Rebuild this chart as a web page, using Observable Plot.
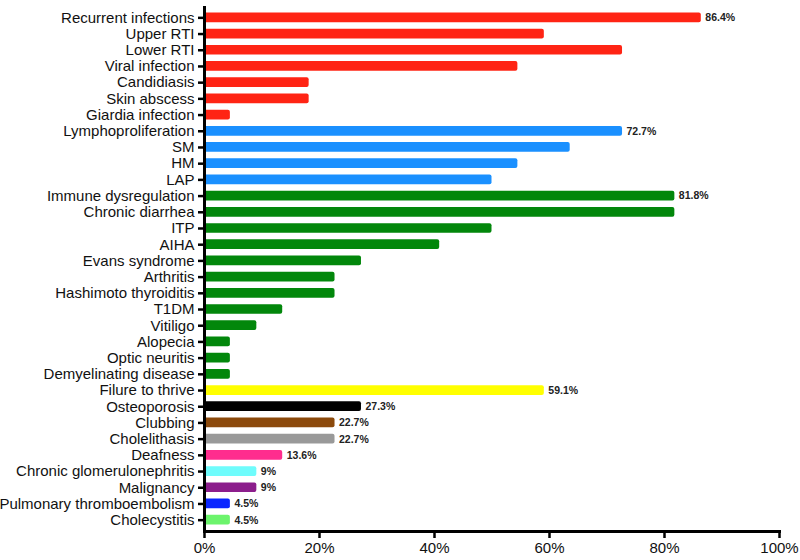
<!DOCTYPE html>
<html>
<head>
<meta charset="utf-8">
<script src="https://cdn.jsdelivr.net/npm/d3@7"></script>
<script src="https://cdn.jsdelivr.net/npm/@observablehq/plot@0.6"></script>
<style>
  html, body { margin: 0; padding: 0; background: #fff; }
  #chart { width: 800px; height: 560px; }
  svg { font-family: "Liberation Sans", Arial, Helvetica, sans-serif; }
</style>
</head>
<body>
<div id="chart"></div>
<script>
const categories = [
  "Recurrent infections", "Upper RTI", "Lower RTI", "Viral infection", "Candidiasis",
  "Skin abscess", "Giardia infection", "Lymphoproliferation", "SM", "HM", "LAP",
  "Immune dysregulation", "Chronic diarrhea", "ITP", "AIHA", "Evans syndrome",
  "Arthritis", "Hashimoto thyroiditis", "T1DM", "Vitiligo", "Alopecia",
  "Optic neuritis", "Demyelinating disease", "Filure to thrive", "Osteoporosis",
  "Clubbing", "Cholelithasis", "Deafness", "Chronic glomerulonephritis",
  "Malignancy", "Pulmonary thromboembolism", "Cholecystitis"
];
const values = [
  86.4, 59.1, 72.7, 54.5, 18.2,
  18.2, 4.5, 72.7, 63.6, 54.5, 50.0,
  81.8, 81.8, 50.0, 40.9, 27.3,
  22.7, 22.7, 13.6, 9.1, 4.5,
  4.5, 4.5, 59.1, 27.3,
  22.7, 22.7, 13.6, 9.1,
  9.1, 4.5, 4.5
];
const groups = [
  "inf", "inf", "inf", "inf", "inf",
  "inf", "inf", "lym", "lym", "lym", "lym",
  "imm", "imm", "imm", "imm", "imm",
  "imm", "imm", "imm", "imm", "imm",
  "imm", "imm", "ftt", "ost",
  "clu", "chl", "dea", "cgn",
  "mal", "pte", "chc"
];
const valueLabels = [
  "86.4%", "", "", "", "",
  "", "", "72.7%", "", "", "",
  "81.8%", "", "", "", "",
  "", "", "", "", "",
  "", "", "59.1%", "27.3%",
  "22.7%", "22.7%", "13.6%", "9%",
  "9%", "4.5%", "4.5%"
];
const groupKeys = ["inf", "lym", "imm", "ftt", "ost", "clu", "chl", "dea", "cgn", "mal", "pte", "chc"];
const groupColors = ["#ff2414", "#1a90ff", "#02870b", "#ffff00", "#000000", "#8c4a0c", "#999999", "#ff2d8e", "#6ffcfc", "#8c1e8c", "#0a26ff", "#6cf46c"];
const xTicks = [0, 20, 40, 60, 80, 100];

const data = categories.map((c, i) => ({
  category: c, value: values[i], group: groups[i], label: valueLabels[i]
}));

const chart = Plot.plot({
  width: 800,
  height: 560,
  marginLeft: 204,
  marginRight: 21,
  marginTop: 6,
  marginBottom: 29,
  style: { fontFamily: "'Liberation Sans', Arial, Helvetica, sans-serif", background: "#fff" },
  x: { domain: [0, 100], ticks: xTicks, tickFormat: d => d + "%", label: null, tickSize: 7, tickPadding: 4 },
  y: { domain: categories, label: null, padding: 0.4, round: false, tickSize: 6, tickPadding: 4 },
  color: { domain: groupKeys, range: groupColors },
  marks: [
    Plot.barX(data, { x: "value", y: "category", fill: "group", rx: 2 }),
    Plot.text(data, {
      x: "value", y: "category", text: "label", textAnchor: "start", dx: 4,
      fontSize: 10.5, fontWeight: "bold", fill: "#222"
    }),
    Plot.frame({ anchor: "bottom", stroke: "#000", strokeWidth: 3 }),
    Plot.ruleX([0], { stroke: "#000", strokeWidth: 3 })
  ]
});

// style axes to match reference (thick black ticks, larger labels)
d3.select(chart).selectAll("[aria-label='y-axis tick'] path, [aria-label='x-axis tick'] path").attr("stroke-width", 2.5).attr("stroke", "#000");
d3.select(chart).selectAll("[aria-label='y-axis tick label']").attr("font-size", 15).attr("fill", "#111");
d3.select(chart).selectAll("[aria-label='x-axis tick label']").attr("font-size", 15).attr("fill", "#111");

document.getElementById("chart").appendChild(chart);
</script>
</body>
</html>
